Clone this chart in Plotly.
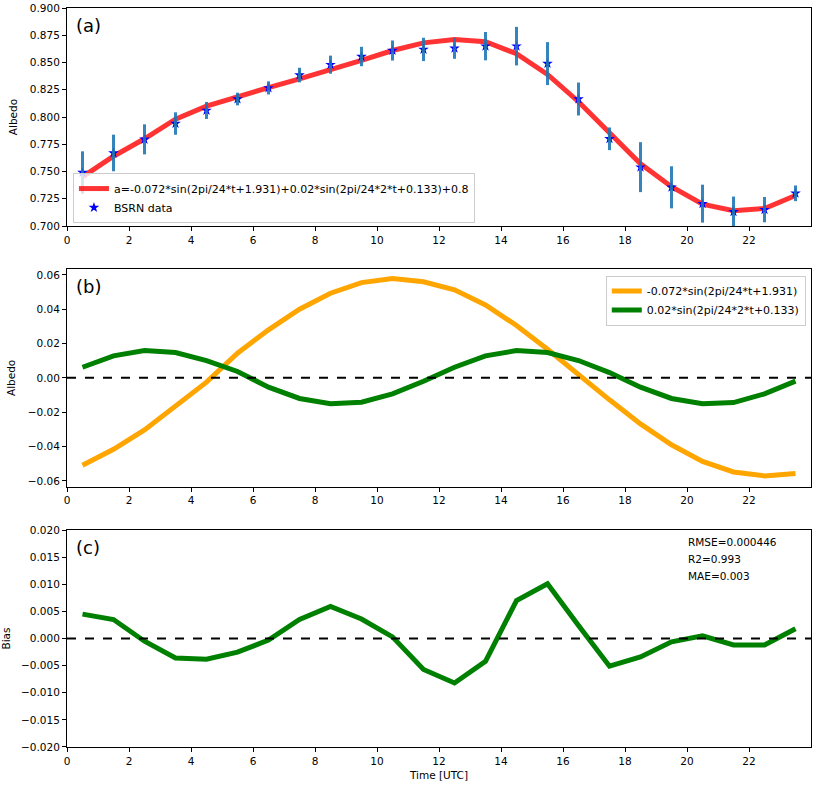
import plotly.graph_objects as go
from plotly.subplots import make_subplots

# hours (UTC) of each hourly mean
hours = [0.5, 1.5, 2.5, 3.5, 4.5, 5.5, 6.5, 7.5, 8.5, 9.5, 10.5, 11.5,
         12.5, 13.5, 14.5, 15.5, 16.5, 17.5, 18.5, 19.5, 20.5, 21.5, 22.5, 23.5]

# (a) fitted albedo curve and BSRN observations
fit_albedo = [0.745, 0.764, 0.780, 0.798, 0.810, 0.819, 0.827, 0.835, 0.843, 0.852, 0.861, 0.868,
              0.871, 0.869, 0.858, 0.839, 0.814, 0.785, 0.757, 0.736, 0.720, 0.714, 0.716, 0.728]
bsrn_albedo = [0.749, 0.767, 0.7795, 0.794, 0.806, 0.8165, 0.8267, 0.8385, 0.848, 0.8555, 0.861, 0.862,
               0.863, 0.865, 0.865, 0.849, 0.8165, 0.780, 0.754, 0.7355, 0.7205, 0.713, 0.715, 0.730]
bsrn_std = [0.0195, 0.0168, 0.0138, 0.0103, 0.0078, 0.0058, 0.006, 0.0067, 0.0083, 0.0089, 0.0092, 0.0107,
            0.0096, 0.013, 0.0177, 0.0197, 0.0151, 0.0104, 0.0229, 0.0193, 0.0174, 0.014, 0.0116, 0.0072]

# (b) the two harmonic terms
term1 = [-0.0509, -0.0416, -0.0303, -0.0161, -0.0025, 0.0144, 0.028, 0.040, 0.0493, 0.0555, 0.0579, 0.056,
         0.0513, 0.0425, 0.0305, 0.0167, 0.0017, -0.0128, -0.0268, -0.039, -0.0487, -0.0548, -0.0571, -0.0557]
term2 = [0.0062, 0.0128, 0.0159, 0.0148, 0.0101, 0.0037, -0.0054, -0.012, -0.0151, -0.0142, -0.0093, -0.002,
         0.0062, 0.0128, 0.0159, 0.0148, 0.0101, 0.0031, -0.0054, -0.012, -0.0151, -0.0144, -0.0093, -0.0019]

# (c) bias (data - fit)
bias = [0.0045, 0.0035, -0.0005, -0.0036, -0.0038, -0.0025, -0.0003, 0.0035, 0.0059, 0.0036, 0.0003, -0.0057,
        -0.0082, -0.0042, 0.0070, 0.0101, 0.0024, -0.0051, -0.0034, -0.0006, 0.0005, -0.0012, -0.0012, 0.0018]

stats = ["RMSE=0.000446", "R2=0.993", "MAE=0.003"]
xticks = list(range(0, 24, 2))

FONT = "DejaVu Sans"

fig = make_subplots(rows=3, cols=1, shared_xaxes=False)

# panel (a)
fig.add_trace(go.Scatter(x=hours, y=fit_albedo, mode="lines",
                         line=dict(color="rgba(255,0,0,0.8)", width=5),
                         name="a=-0.072*sin(2pi/24*t+1.931)+0.02*sin(2pi/24*2*t+0.133)+0.8"),
              row=1, col=1)
fig.add_trace(go.Scatter(x=hours, y=bsrn_albedo, mode="markers",
                         marker=dict(symbol="star", color="blue", size=8),
                         name="BSRN data"), row=1, col=1)
fig.add_trace(go.Scatter(x=hours, y=bsrn_albedo, mode="markers",
                         marker=dict(size=1, opacity=0), showlegend=False, hoverinfo="skip",
                         error_y=dict(type="data", array=bsrn_std, color="rgba(31,119,180,0.9)",
                                      thickness=3, width=0)), row=1, col=1)

# panel (b)
fig.add_trace(go.Scatter(x=hours, y=term1, mode="lines", line=dict(color="orange", width=5),
                         name="-0.072*sin(2pi/24*t+1.931)", legend="legend2"), row=2, col=1)
fig.add_trace(go.Scatter(x=hours, y=term2, mode="lines", line=dict(color="green", width=5),
                         name="0.02*sin(2pi/24*2*t+0.133)", legend="legend2"), row=2, col=1)

# panel (c)
fig.add_trace(go.Scatter(x=hours, y=bias, mode="lines", line=dict(color="green", width=5),
                         showlegend=False), row=3, col=1)

# zero lines
for r in (2, 3):
    fig.add_hline(y=0, line=dict(color="black", width=2, dash="dash"), row=r, col=1)

axis_style = dict(showline=True, mirror=True, linecolor="black", linewidth=1,
                  ticks="outside", ticklen=4, tickcolor="black", showgrid=False,
                  zeroline=False, automargin=False, tickfont=dict(size=10.5, color="black"))

for r in (1, 2, 3):
    fig.update_xaxes(range=[0, 24], tickvals=xticks, **axis_style, row=r, col=1)

fig.update_yaxes(range=[0.7, 0.9], dtick=0.025, tickformat=".3f",
                 title=dict(text="Albedo", font=dict(size=10.5), standoff=10),
                 **axis_style, row=1, col=1)
fig.update_yaxes(range=[-0.0635, 0.0635], tickvals=[-0.06, -0.04, -0.02, 0, 0.02, 0.04, 0.06],
                 tickformat=".2f",
                 title=dict(text="Albedo", font=dict(size=10.5), standoff=10),
                 **axis_style, row=2, col=1)
fig.update_yaxes(range=[-0.02, 0.02], dtick=0.005, tickformat=".3f",
                 title=dict(text="Bias", font=dict(size=10.5), standoff=10),
                 **axis_style, row=3, col=1)
fig.update_xaxes(title=dict(text="Time [UTC]", font=dict(size=10.5), standoff=6), row=3, col=1)

fig.update_layout(
    yaxis=dict(domain=[0.705, 1.0]),
    yaxis2=dict(domain=[0.352, 0.647]),
    yaxis3=dict(domain=[0.0, 0.2936]),
    width=817, height=786,
    margin=dict(l=67, r=6, t=8, b=39),
    plot_bgcolor="white", paper_bgcolor="white",
    font=dict(family=FONT, size=11, color="black"),
    legend=dict(x=0.008, y=0.709, xanchor="left", yanchor="bottom", itemwidth=30,
                bordercolor="#cccccc", borderwidth=1, bgcolor="rgba(255,255,255,0.8)",
                font=dict(size=11), tracegroupgap=0),
    legend2=dict(x=0.993, y=0.638, xanchor="right", yanchor="top", itemwidth=30,
                 bordercolor="#cccccc", borderwidth=1, bgcolor="rgba(255,255,255,0.8)",
                 font=dict(size=11)),
)

for i, lab in enumerate(["(a)", "(b)", "(c)"]):
    ref = "" if i == 0 else str(i + 1)
    fig.add_annotation(text=lab, xref=f"x{ref} domain", yref=f"y{ref} domain",
                       x=0.009, y=0.92, xanchor="left", yanchor="middle",
                       showarrow=False, font=dict(size=18))

for j, s in enumerate(stats):
    fig.add_annotation(text=s, xref="x3 domain", yref="y3 domain",
                       x=0.832, y=0.944 - j * 0.077, xanchor="left", yanchor="middle",
                       showarrow=False, font=dict(size=10.5))

# drop the browser's default body margin so the figure sits at the page corner
fig.write_html("out.html", config={"displayModeBar": False},
               post_script="document.body.style.margin='0px';")
